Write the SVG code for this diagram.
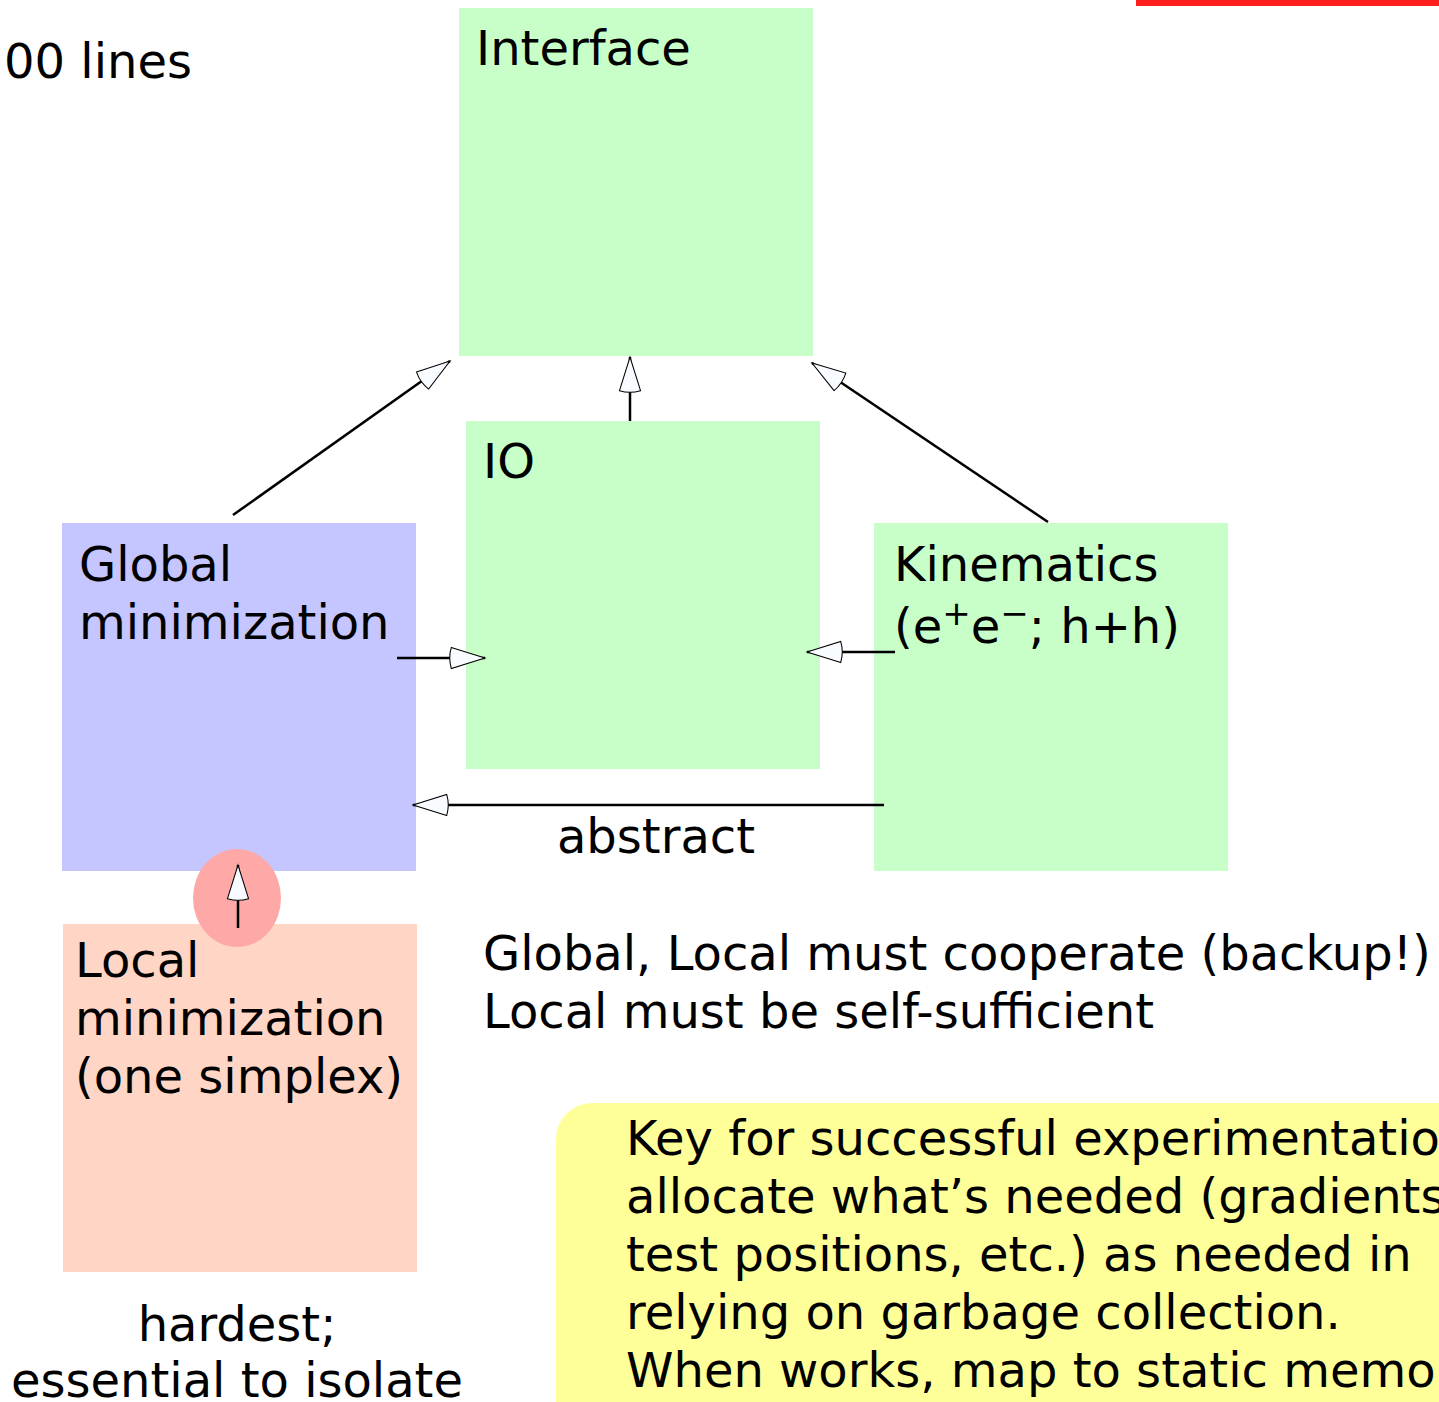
<svg xmlns="http://www.w3.org/2000/svg" width="1439" height="1402" viewBox="0 0 1439 1402">
<defs>
<style>
text{font-family:"DejaVu Sans","Verdana",sans-serif;font-size:48px;fill:#000}
.green{fill:#c8ffc8}
.blue{fill:#c5c5ff}
.peach{fill:#ffd5c5}
.conn line{stroke:#000;stroke-width:2.5;marker-end:url(#open)}
</style>
<marker id="open" markerUnits="userSpaceOnUse" markerWidth="40" markerHeight="26" viewBox="-4 -12 38 24" refX="32" refY="0" orient="auto">
<path d="M0,-10 L32,0 L0,10 Q-3,0 0,-10 Z" fill="#f8fbff" stroke="#000" stroke-width="1"/>
</marker>
</defs>
<rect x="0" y="0" width="1439" height="1402" fill="#fff"/>
<rect id="redbar" x="1136" y="0" width="303" height="6" fill="#ff1e1e"/>
<text x="4" y="78">00 lines</text>
<g id="interface"><rect class="green" x="459" y="8" width="354" height="348"/><text x="476" y="65">Interface</text></g>
<g id="io"><rect class="green" x="466" y="421" width="354" height="348"/><text x="483" y="478">IO</text></g>
<g id="global"><rect class="blue" x="62" y="523" width="354" height="348"/><text x="79" y="581">Global</text><text x="79" y="639">minimization</text></g>
<g id="kinematics"><rect class="green" x="874" y="523" width="354" height="348"/><text x="894" y="643">(e<tspan font-size="34" dy="-18">+</tspan><tspan dy="18">e</tspan><tspan font-size="34" dy="-18">−</tspan><tspan dy="18">; h+h)</tspan></text><text x="894" y="581">Kinematics</text></g>
<g id="local"><rect class="peach" x="63" y="924" width="354" height="348"/><text x="75" y="977">Local</text><text x="75" y="1035">minimization</text><text x="75" y="1093">(one simplex)</text></g>
<g id="knob"><ellipse cx="237" cy="898" rx="44" ry="49" fill="#ffa8a8"/></g>
<g id="note"><rect x="556" y="1103" width="940" height="340" rx="36" fill="#ffff99"/>
<text x="626" y="1155">Key for successful experimentatio</text>
<text x="626" y="1213">allocate what’s needed (gradients</text>
<text x="626" y="1271">test positions, etc.) as needed in</text>
<text x="626" y="1329">relying on garbage collection.</text>
<text x="626" y="1387">When works, map to static memo</text></g>
<text x="483" y="970">Global, Local must cooperate (backup!)</text>
<text x="483" y="1028">Local must be self-sufficient</text>
<text x="656" y="853" text-anchor="middle">abstract</text>
<text x="237" y="1341" text-anchor="middle">hardest;</text>
<text x="237" y="1397" text-anchor="middle">essential to isolate</text>
<g id="connectors" class="conn">
<line x1="233" y1="515" x2="450" y2="361"/>
<line x1="630" y1="421" x2="630" y2="357"/>
<line x1="1048" y1="522" x2="812" y2="363"/>
<line x1="397" y1="658" x2="485" y2="658"/>
<line x1="895" y1="652" x2="807" y2="652"/>
<line x1="884" y1="805" x2="413" y2="805"/>
<line x1="238" y1="928" x2="238" y2="865"/>
</g>
</svg>
